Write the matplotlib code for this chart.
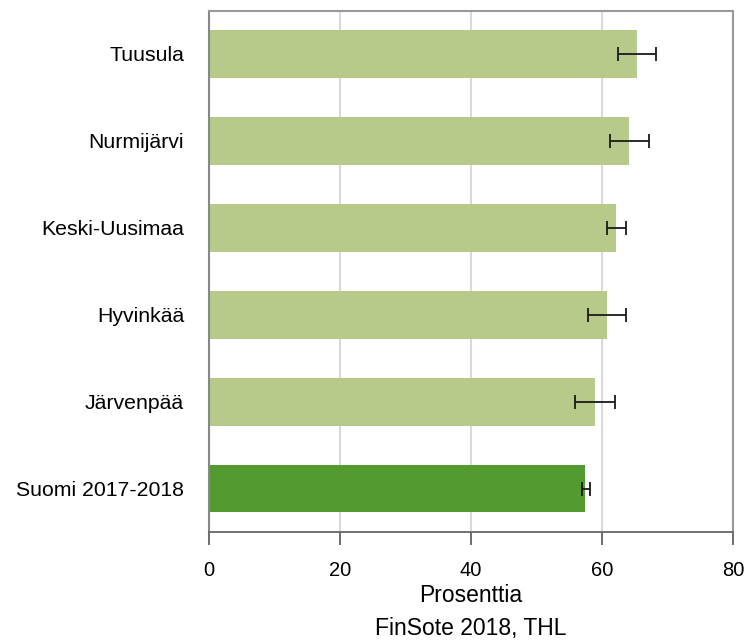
import matplotlib
matplotlib.use("Agg")
import matplotlib.pyplot as plt
import numpy as np

categories = ["Tuusula", "Nurmijärvi", "Keski-Uusimaa", "Hyvinkää", "Järvenpää", "Suomi 2017-2018"]
values = [65.3, 64.1, 62.2, 60.8, 58.9, 57.4]
lower = [62.4, 61.2, 60.8, 57.9, 55.9, 56.9]
upper = [68.2, 67.1, 63.7, 63.7, 62.0, 58.2]
colors = ["#B8CA89", "#B8CA89", "#B8CA89", "#B8CA89", "#B8CA89", "#539A30"]
xticks = [0, 20, 40, 60, 80]

plt.rcParams['font.family'] = ['Liberation Sans', 'DejaVu Sans']

fig = plt.figure(figsize=(7.46, 6.41), dpi=100)
ax = fig.add_axes([209/746, 1-532/641, (733-209)/746, (532-10.5)/641])

y = np.arange(len(categories))
vals = np.array(values)
xerr = np.array([vals - np.array(lower), np.array(upper) - vals])
ax.barh(y, vals, height=0.55, color=colors, zorder=2)
ax.errorbar(vals, y, xerr=xerr, fmt='none', ecolor='#1a1a1a', elinewidth=1.3,
            capsize=5, capthick=1.3, zorder=3)

ax.set_ylim(len(categories) - 0.5, -0.5)
ax.set_xlim(0, 80)
ax.set_xticks(xticks)
ax.set_xticklabels([str(t) for t in xticks], fontsize=14.5)
ax.set_yticks(y)
ax.set_yticklabels(categories, fontsize=15.3)
ax.tick_params(axis='y', length=0, pad=18)
ax.tick_params(axis='x', length=9, width=1.2, color='#555555', pad=12)
ax.grid(axis='x', color='#D9D9D9', linewidth=1.5, zorder=0)
ax.set_axisbelow(True)
for side in ['top', 'right']:
    ax.spines[side].set_color('#999999')
    ax.spines[side].set_linewidth(1.5)
ax.spines['left'].set_color('#888888')
ax.spines['left'].set_linewidth(1.5)
ax.spines['bottom'].set_color('#666666')
ax.spines['bottom'].set_linewidth(1.3)

ax.set_xlabel("Prosenttia", fontsize=16.5, labelpad=2.5)
fig.text((209+733)/2/746, 1-629/641, "FinSote 2018, THL", fontsize=16.5, ha='center', va='center')

fig.savefig("out.png", dpi=100)
